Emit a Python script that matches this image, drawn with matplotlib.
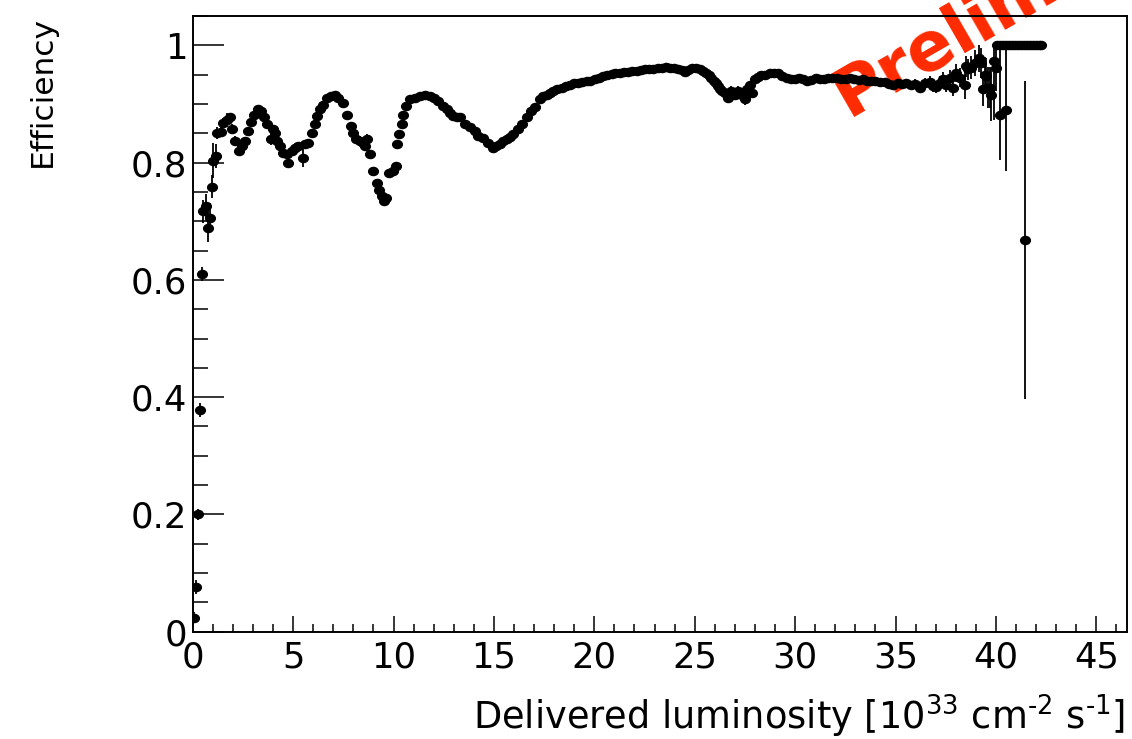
import matplotlib
matplotlib.use("Agg")
import matplotlib.pyplot as plt
from matplotlib.ticker import MultipleLocator, FixedLocator, FixedFormatter
from matplotlib.path import Path
from matplotlib.transforms import Affine2D

plt.rcParams['font.family'] = ['DejaVu Sans']
plt.rcParams['mathtext.default'] = 'regular'

# ---------------- data ----------------
lumi = [0.06, 0.18, 0.25, 0.36, 0.45, 0.53, 0.65, 0.76, 0.86, 0.96, 1.03, 1.16, 1.19, 1.39, 1.49,
        1.69, 1.86, 1.94, 2.11, 2.32, 2.44, 2.60, 2.77, 2.89, 3.05, 3.27, 3.40, 3.55, 3.71, 3.88,
        3.98, 4.10, 4.21, 4.35, 4.51, 4.68, 4.76, 4.93, 5.09, 5.26, 5.47, 5.59, 5.76, 5.92, 6.09,
        6.20, 6.34, 6.50, 6.67, 6.87, 7.08, 7.25, 7.47, 7.67, 7.86, 7.99, 8.13, 8.33, 8.49, 8.58,
        8.69, 8.83, 8.96, 9.16, 9.29, 9.41, 9.52, 9.62, 9.79, 9.98, 10.12, 10.15, 10.28, 10.40, 10.48,
        10.62, 10.82, 11.07, 11.31, 11.56, 11.81, 12.01, 12.23, 12.47, 12.64, 12.80, 12.97, 13.15, 13.30, 13.55,
        13.80, 14.05, 14.22, 14.47, 14.72, 14.96, 15.12, 15.30, 15.47, 15.63, 15.80, 15.96, 16.21, 16.38, 16.63,
        16.87, 17.04, 17.29, 17.45, 17.62, 17.80, 17.95, 18.15, 18.37, 18.57, 18.78, 19.00, 19.19, 19.40, 19.61,
        19.80, 20.02, 20.22, 20.44, 20.65, 20.86, 21.05, 21.27, 21.48, 21.68, 21.90, 22.10, 22.30, 22.51, 22.72,
        22.93, 23.15, 23.35, 23.55, 23.76, 23.97, 24.17, 24.35, 24.50, 24.66, 24.84, 25.05, 25.25, 25.42, 25.58,
        25.70, 25.83, 25.95, 26.08, 26.16, 26.25, 26.38, 26.50, 26.66, 26.83, 26.99, 27.16, 27.33, 27.49, 27.58,
        27.74, 27.83, 27.99, 28.15, 28.32, 28.52, 28.73, 28.94, 29.15, 29.36, 29.57, 29.78, 29.98, 30.18, 30.39,
        30.60, 30.81, 31.02, 31.23, 31.44, 31.64, 31.85, 32.06, 32.30, 32.55, 32.75, 32.95, 33.17, 33.38, 33.60,
        33.80, 34.00, 34.21, 34.45, 34.65, 34.87, 35.10, 35.30, 35.54, 35.75, 35.98, 36.20, 36.45, 36.70, 36.88,
        37.03, 37.20, 37.36, 37.53, 37.70, 37.86, 38.03, 38.20, 38.44, 38.53, 38.61, 38.78, 38.94, 39.16, 39.27,
        39.36, 39.44, 39.52, 39.60, 39.69, 39.77, 39.90, 40.02, 40.22, 40.52, 41.43,
        40.05, 40.20, 40.35, 40.50, 40.65, 40.80, 40.95, 41.10, 41.25, 41.40, 41.55, 41.70, 41.85, 42.00,
        42.13, 42.26]
eff = [0.024, 0.077, 0.200, 0.378, 0.610, 0.717, 0.726, 0.689, 0.706, 0.759, 0.803, 0.811, 0.851, 0.852, 0.868,
       0.873, 0.877, 0.857, 0.837, 0.820, 0.828, 0.837, 0.854, 0.869, 0.882, 0.891, 0.888, 0.877, 0.865, 0.840,
       0.857, 0.851, 0.837, 0.828, 0.817, 0.814, 0.800, 0.820, 0.825, 0.828, 0.808, 0.831, 0.834, 0.851, 0.865,
       0.879, 0.891, 0.899, 0.911, 0.914, 0.916, 0.911, 0.902, 0.882, 0.862, 0.851, 0.840, 0.837, 0.834, 0.828,
       0.840, 0.814, 0.786, 0.766, 0.754, 0.743, 0.734, 0.740, 0.783, 0.786, 0.794, 0.831, 0.848, 0.865, 0.882,
       0.896, 0.908, 0.911, 0.914, 0.916, 0.914, 0.911, 0.905, 0.896, 0.891, 0.884, 0.879, 0.878, 0.877, 0.865,
       0.860, 0.854, 0.845, 0.842, 0.834, 0.825, 0.828, 0.831, 0.836, 0.840, 0.844, 0.848, 0.857, 0.865, 0.877,
       0.888, 0.894, 0.908, 0.913, 0.916, 0.919, 0.922, 0.925, 0.928, 0.930, 0.933, 0.935, 0.936, 0.938, 0.939,
       0.940, 0.942, 0.944, 0.947, 0.949, 0.951, 0.952, 0.953, 0.954, 0.955, 0.956, 0.957, 0.958, 0.959, 0.960,
       0.960, 0.961, 0.962, 0.963, 0.962, 0.961, 0.960, 0.958, 0.955, 0.958, 0.962, 0.961, 0.959, 0.956, 0.953,
       0.949, 0.945, 0.940, 0.936, 0.930, 0.925, 0.922, 0.919, 0.911, 0.922, 0.916, 0.922, 0.916, 0.908, 0.925,
       0.933, 0.919, 0.942, 0.946, 0.949, 0.950, 0.952, 0.953, 0.952, 0.948, 0.945, 0.943, 0.942, 0.944, 0.943,
       0.940, 0.941, 0.944, 0.943, 0.942, 0.945, 0.944, 0.945, 0.943, 0.942, 0.944, 0.943, 0.941, 0.942, 0.940,
       0.940, 0.939, 0.937, 0.938, 0.934, 0.933, 0.936, 0.934, 0.935, 0.932, 0.934, 0.928, 0.935, 0.937, 0.931,
       0.929, 0.936, 0.942, 0.933, 0.945, 0.928, 0.953, 0.945, 0.933, 0.964, 0.959, 0.962, 0.970, 0.979, 0.970,
       0.925, 0.950, 0.948, 0.928, 0.928, 0.916, 0.973, 0.962, 0.882, 0.889, 0.668,
       1.0, 1.0, 1.0, 1.0, 1.0, 1.0, 1.0, 1.0, 1.0, 1.0, 1.0, 1.0, 1.0, 1.0,
       1.0, 1.0]
err_low = [0.010, 0.012, 0.010, 0.012, 0.012, 0.020, 0.020, 0.025, 0.025, 0.020, 0.030, 0.020, 0.010, 0.008, 0.008,
           0.012, 0.008, 0.008, 0.008, 0.008, 0.008, 0.006, 0.006, 0.006, 0.006, 0.006, 0.006, 0.006, 0.006, 0.010,
           0.006, 0.006, 0.006, 0.006, 0.006, 0.006, 0.008, 0.006, 0.006, 0.006, 0.016, 0.006, 0.006, 0.005, 0.005,
           0.005, 0.005, 0.005, 0.005, 0.005, 0.005, 0.005, 0.005, 0.005, 0.005, 0.005, 0.008, 0.008, 0.008, 0.008,
           0.008, 0.006, 0.006, 0.006, 0.006, 0.006, 0.006, 0.006, 0.006, 0.006, 0.006, 0.005, 0.005, 0.005, 0.005,
           0.004, 0.004, 0.004, 0.004, 0.004, 0.004, 0.004, 0.004, 0.004, 0.004, 0.004, 0.004, 0.004, 0.004, 0.004,
           0.004, 0.004, 0.004, 0.004, 0.004, 0.004, 0.004, 0.004, 0.004, 0.004, 0.004, 0.004, 0.004, 0.004, 0.004,
           0.004, 0.004, 0.004, 0.004, 0.004, 0.004, 0.004, 0.004, 0.004, 0.004, 0.004, 0.004, 0.004, 0.004, 0.004,
           0.004, 0.004, 0.004, 0.004, 0.004, 0.004, 0.004, 0.004, 0.004, 0.004, 0.004, 0.004, 0.004, 0.004, 0.004,
           0.004, 0.004, 0.004, 0.004, 0.004, 0.004, 0.004, 0.004, 0.004, 0.004, 0.004, 0.004, 0.004, 0.004, 0.004,
           0.005, 0.005, 0.005, 0.005, 0.006, 0.006, 0.006, 0.006, 0.008, 0.008, 0.008, 0.008, 0.008, 0.010, 0.008,
           0.006, 0.008, 0.005, 0.004, 0.004, 0.004, 0.004, 0.004, 0.004, 0.004, 0.004, 0.004, 0.004, 0.004, 0.004,
           0.004, 0.004, 0.004, 0.004, 0.004, 0.004, 0.004, 0.004, 0.004, 0.004, 0.004, 0.004, 0.005, 0.005, 0.005,
           0.005, 0.005, 0.005, 0.006, 0.006, 0.006, 0.006, 0.006, 0.007, 0.007, 0.008, 0.008, 0.009, 0.010, 0.010,
           0.011, 0.011, 0.012, 0.013, 0.013, 0.014, 0.015, 0.016, 0.025, 0.018, 0.018, 0.020, 0.022, 0.025, 0.025,
           0.028, 0.030, 0.030, 0.035, 0.035, 0.045, 0.100, 0.040, 0.077, 0.103, 0.272,
           0.0, 0.0, 0.0, 0.0, 0.0, 0.0, 0.0, 0.0, 0.0, 0.0, 0.0, 0.0, 0.0, 0.0,
           0.0, 0.0]
err_high = [0.010, 0.012, 0.010, 0.012, 0.012, 0.020, 0.020, 0.025, 0.025, 0.020, 0.030, 0.020, 0.010, 0.008, 0.008,
            0.012, 0.008, 0.008, 0.008, 0.008, 0.008, 0.006, 0.006, 0.006, 0.006, 0.006, 0.006, 0.006, 0.006, 0.010,
            0.006, 0.006, 0.006, 0.006, 0.006, 0.006, 0.008, 0.006, 0.006, 0.006, 0.016, 0.006, 0.006, 0.005, 0.005,
            0.005, 0.005, 0.005, 0.005, 0.005, 0.005, 0.005, 0.005, 0.005, 0.005, 0.005, 0.008, 0.008, 0.008, 0.008,
            0.008, 0.006, 0.006, 0.006, 0.006, 0.006, 0.006, 0.006, 0.006, 0.006, 0.006, 0.005, 0.005, 0.005, 0.005,
            0.004, 0.004, 0.004, 0.004, 0.004, 0.004, 0.004, 0.004, 0.004, 0.004, 0.004, 0.004, 0.004, 0.004, 0.004,
            0.004, 0.004, 0.004, 0.004, 0.004, 0.004, 0.004, 0.004, 0.004, 0.004, 0.004, 0.004, 0.004, 0.004, 0.004,
            0.004, 0.004, 0.004, 0.004, 0.004, 0.004, 0.004, 0.004, 0.004, 0.004, 0.004, 0.004, 0.004, 0.004, 0.004,
            0.004, 0.004, 0.004, 0.004, 0.004, 0.004, 0.004, 0.004, 0.004, 0.004, 0.004, 0.004, 0.004, 0.004, 0.004,
            0.004, 0.004, 0.004, 0.004, 0.004, 0.004, 0.004, 0.004, 0.004, 0.004, 0.004, 0.004, 0.004, 0.004, 0.004,
            0.005, 0.005, 0.005, 0.005, 0.006, 0.006, 0.006, 0.006, 0.008, 0.008, 0.008, 0.008, 0.008, 0.010, 0.008,
            0.006, 0.008, 0.005, 0.004, 0.004, 0.004, 0.004, 0.004, 0.004, 0.004, 0.004, 0.004, 0.004, 0.004, 0.004,
            0.004, 0.004, 0.004, 0.004, 0.004, 0.004, 0.004, 0.004, 0.004, 0.004, 0.004, 0.004, 0.005, 0.005, 0.005,
            0.005, 0.005, 0.005, 0.006, 0.006, 0.006, 0.006, 0.006, 0.007, 0.007, 0.008, 0.008, 0.009, 0.010, 0.010,
            0.011, 0.011, 0.012, 0.013, 0.013, 0.014, 0.015, 0.016, 0.025, 0.018, 0.018, 0.020, 0.022, 0.021, 0.025,
            0.028, 0.030, 0.030, 0.035, 0.035, 0.045, 0.027, 0.038, 0.111, 0.104, 0.271,
            0.0, 0.0, 0.0, 0.0, 0.0, 0.0, 0.0, 0.0, 0.0, 0.0, 0.0, 0.0, 0.0, 0.0,
            0.0, 0.0]

x_ticks = [0, 5, 10, 15, 20, 25, 30, 35, 40, 45]
y_ticks = [0.0, 0.2, 0.4, 0.6, 0.8, 1.0]
y_tick_labels = ['0', '0.2', '0.4', '0.6', '0.8', '1']

# ---------------- figure ----------------
W, H = 1132, 739
fig = plt.figure(figsize=(W / 100, H / 100), dpi=100)
ax = fig.add_axes([192.7 / W, 1 - 631.7 / H, (1126.5 - 192.7) / W, (631.7 - 16) / H])

ax.text(848 / W, 1 - 117 / H, 'Preliminary', transform=fig.transFigure,
        rotation=30, rotation_mode='anchor', ha='left', va='baseline',
        fontsize=49, fontweight='bold', color='#ff2a00', zorder=1, clip_on=False)

# slightly wide elliptical marker (the reference is stretched horizontally)
ell = Path.unit_circle().transformed(Affine2D().scale(1.2, 1.0))

ax.errorbar(lumi, eff, yerr=[err_low, err_high], fmt='none', ecolor='black',
            elinewidth=1.3, capsize=0, zorder=3)
ax.plot(lumi, eff, linestyle='none', marker=ell, ms=7.0, color='black',
        mec='black', mfc='black', zorder=4)

ax.set_xlim(0, 46.5)
ax.set_ylim(0, 1.05)

ax.xaxis.set_major_locator(FixedLocator(x_ticks))
ax.xaxis.set_minor_locator(MultipleLocator(1))
ax.yaxis.set_major_locator(FixedLocator(y_ticks))
ax.yaxis.set_major_formatter(FixedFormatter(y_tick_labels))
ax.yaxis.set_minor_locator(MultipleLocator(0.05))

ax.tick_params(axis='x', which='major', direction='in', length=11.5, width=1.1, labelsize=25.5, pad=6,
               top=False, bottom=True)
ax.tick_params(axis='x', which='minor', direction='in', length=5.8, width=1.1, top=False, bottom=True)
ax.tick_params(axis='y', which='major', direction='in', length=22, width=1.1, labelsize=25.5, pad=4,
               left=True, right=False)
ax.tick_params(axis='y', which='minor', direction='in', length=11, width=1.1, left=True, right=False)

for s in ax.spines.values():
    s.set_linewidth(1.4)

fig.text(1125 / W, 1 - 730 / H, 'Delivered luminosity [10$^{33}$ cm$^{\\text{-}2}$ s$^{\\text{-}1}$]',
         ha='right', va='baseline', fontsize=26.5)
fig.text(42 / W, 1 - 16 / H, 'Efficiency', rotation=90, ha='center', va='top', fontsize=22.5)

fig.savefig('out.png', dpi=100)
